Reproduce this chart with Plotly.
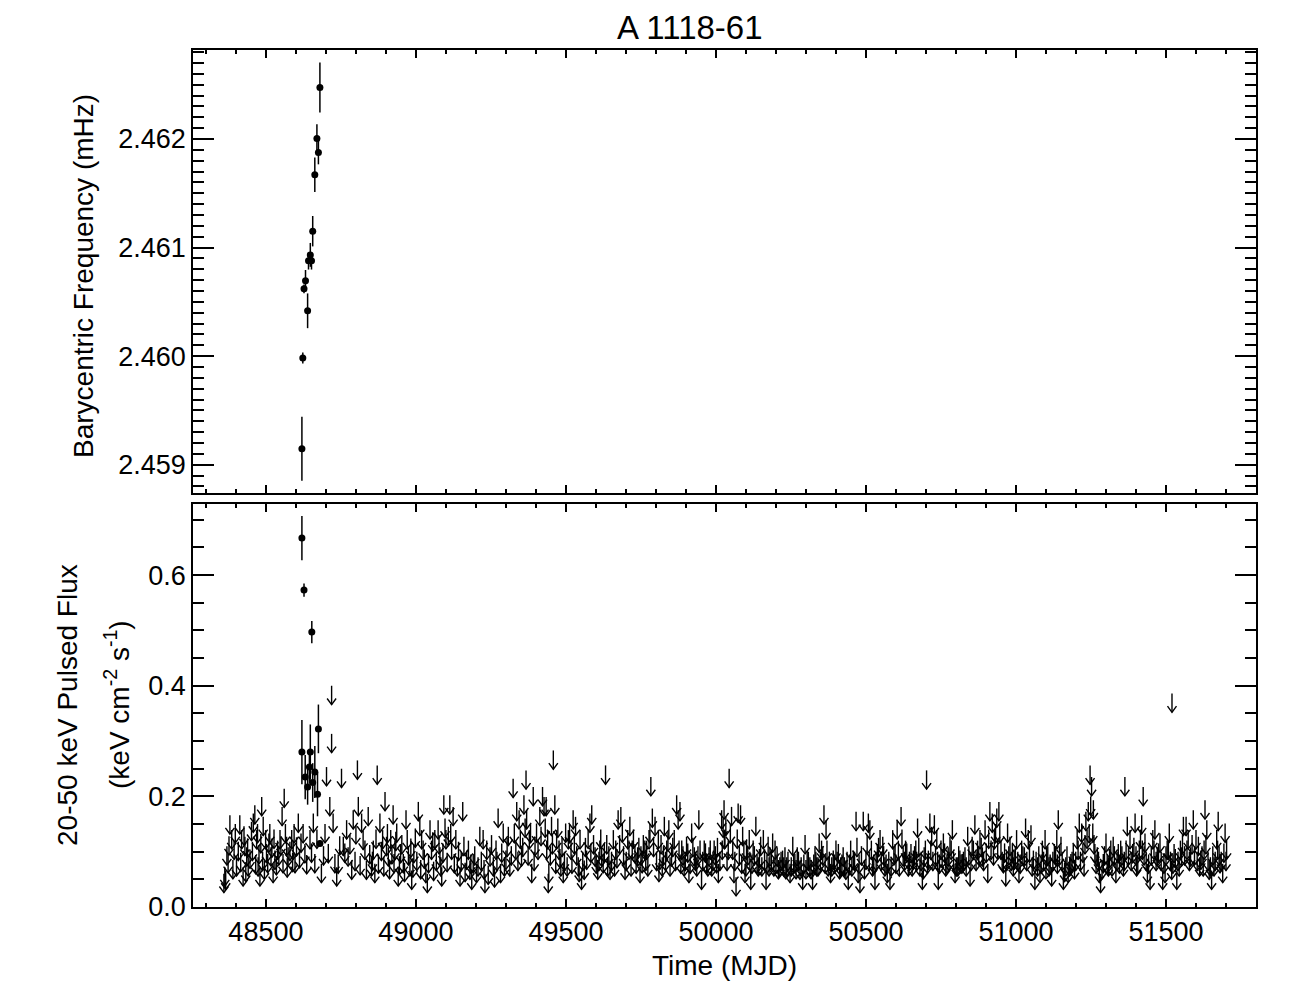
import plotly.graph_objects as go

# ---------------- data ----------------
# Top panel: barycentric pulse frequency (mHz)
freq_time = [48620, 48623, 48627, 48632, 48639, 48642, 48648, 48652, 48656, 48663, 48670, 48675, 48680]
freq_val = [2.459147, 2.459983, 2.460620, 2.460694, 2.460418, 2.460878, 2.460933, 2.460878,
            2.461151, 2.461671, 2.462005, 2.461877, 2.462474]
freq_err = [0.000294, 0.00005, 0.00004, 0.00010, 0.00016, 0.00008, 0.00011, 0.00008,
            0.00014, 0.00016, 0.00013, 0.00011, 0.00023]

# Bottom panel: detections of pulsed flux
flux_time = [48620, 48620, 48627, 48631, 48639, 48645, 48648, 48653, 48656, 48663, 48672, 48675, 48680]
flux_val = [0.280, 0.667, 0.573, 0.235, 0.217, 0.253, 0.280, 0.497, 0.225, 0.244, 0.204, 0.322, 0.115]
flux_err = [0.058, 0.040, 0.012, 0.040, 0.032, 0.030, 0.050, 0.020, 0.035, 0.047, 0.040, 0.044, 0.005]

# Bottom panel: upper limits (arrows) - clearly separable ones
ul_time = [
    48360, 48363, 48366, 48374, 48380, 48386, 48394, 48402, 48413, 48419,
    48424, 48430, 48436, 48441, 48452, 48458, 48463, 48469, 48474, 48480,
    48486, 48491, 48499, 48502, 48510, 48517, 48524, 48530, 48539, 48547,
    48554, 48561, 48569, 48574, 48586, 48591, 48597, 48608, 48617, 48630,
    48647, 48658, 48663, 48685, 48702, 48708, 48713, 48719, 48719, 48724,
    48730, 48736, 48752, 48758, 48769, 48774, 48786, 48791, 48805, 48808,
    48819, 48830, 48841, 48852,
    48858, 48863, 48871, 48880, 48889, 48897, 48902, 48908, 48916, 48924,
    48930, 48936, 48941, 48949, 48958, 48967, 48971, 48980, 48986, 48993,
    49008, 49013, 49019, 49024, 49033, 49038, 49047, 49052, 49063, 49074,
    49080, 49086, 49093, 49100, 49108, 49113, 49119, 49124, 49133, 49138,
    49147, 49156, 49160, 49169, 49180, 49186, 49191, 49202, 49213, 49224,
    49230, 49236, 49247, 49258, 49267, 49274, 49282, 49291, 49300, 49308,
    49313, 49324, 49333, 49336, 49344, 49352, 49360, 49367, 49369, 49378,
    49386, 49391, 49397, 49402, 49413, 49422, 49427, 49436, 49441,
    49434, 49439, 49443, 49452, 49458, 49463, 49469, 49477, 49483, 49491,
    49499, 49508, 49517, 49524, 49532, 49541, 49547, 49552, 49561, 49569,
    49580, 49586, 49597, 49606, 49613, 49619, 49624, 49632, 49639, 49647,
    49658, 49666, 49674, 49683, 49688, 49697, 49706, 49713, 49721, 49730,
    49739, 49747, 49754, 49763, 49769, 49777, 49783, 49788, 49797, 49808,
    49813, 49821, 49828, 49836, 49843, 49852, 49861, 49869, 49874, 49880,
    49886, 49894, 49902, 49910, 49919, 49928, 49936, 49943, 49952, 49961,
    49969, 49977, 49986, 49994, 50002, 50008, 50019, 50028,
    50021, 50027, 50033, 50041, 50044, 50052, 50060, 50067, 50074, 50082,
    50089, 50097, 50102, 50111, 50116, 50124, 50133, 50141, 50149, 50158,
    50167, 50174, 50180, 50189, 50197, 50204, 50213, 50222, 50230, 50236,
    50247, 50256, 50263, 50271, 50280, 50289, 50297, 50304, 50313, 50322,
    50330, 50336, 50344, 50352, 50360, 50367, 50374, 50382, 50391, 50400,
    50408, 50416, 50424, 50433, 50441, 50449, 50458, 50467, 50474, 50480,
    50491, 50500, 50508, 50513, 50522, 50530, 50538, 50547, 50556, 50563,
    50571, 50580, 50589, 50597, 50604, 50611,
    50617, 50624, 50632, 50641, 50650, 50658, 50666, 50672, 50680, 50688,
    50694, 50702, 50708, 50713, 50719, 50728, 50736, 50741, 50750, 50758,
    50766, 50774, 50780, 50788, 50797, 50806, 50813, 50821, 50830, 50839,
    50847, 50854, 50863, 50872, 50880, 50888, 50897, 50906, 50913, 50921,
    50928, 50936, 50943, 50950, 50958, 50966, 50972, 50980, 50988, 50994,
    51002, 51010, 51019, 51028, 51032, 51041, 51050, 51058, 51063, 51072,
    51080, 51088, 51097, 51102, 51110, 51119, 51128, 51136, 51141, 51150,
    51158, 51166, 51174, 51183, 51191,
    51204, 51211, 51219, 51227, 51233, 51241, 51247, 51252, 51256, 51258,
    51263, 51271, 51278, 51282, 51291, 51300, 51308, 51316, 51324, 51333,
    51341, 51349, 51358, 51363, 51371, 51380, 51389, 51397, 51402, 51411,
    51419, 51424, 51430, 51438, 51447, 51456, 51463, 51471, 51480, 51489,
    51497, 51504, 51511, 51519, 51520, 51527, 51536, 51544, 51552, 51558,
    51567, 51574, 51582, 51591, 51600, 51608, 51616, 51624, 51630, 51636,
    51644, 51652, 51660, 51669, 51674, 51680, 51689, 51697, 51702,
]
ul_flux = [
    0.060, 0.072, 0.066, 0.096, 0.166, 0.139, 0.120, 0.090, 0.166, 0.139,
    0.072, 0.127, 0.108, 0.090, 0.154, 0.169, 0.184, 0.139, 0.090, 0.072,
    0.199, 0.163, 0.139, 0.114, 0.133, 0.108, 0.078, 0.102, 0.120, 0.139,
    0.181, 0.214, 0.127, 0.108, 0.139, 0.120, 0.096, 0.169, 0.133, 0.114,
    0.139, 0.169, 0.096, 0.078, 0.253, 0.114, 0.199, 0.313, 0.400, 0.169,
    0.096, 0.072, 0.250, 0.127, 0.157, 0.108, 0.084, 0.175, 0.265, 0.199,
    0.169, 0.120, 0.181, 0.090,
    0.120, 0.078, 0.256, 0.169, 0.139, 0.208, 0.127, 0.108, 0.139, 0.184,
    0.120, 0.151, 0.072, 0.114, 0.096, 0.175, 0.139, 0.090, 0.066, 0.114,
    0.190, 0.163, 0.139, 0.120, 0.078, 0.060, 0.157, 0.120, 0.139, 0.157,
    0.108, 0.072, 0.202, 0.139, 0.145, 0.202, 0.120, 0.181, 0.139, 0.090,
    0.072, 0.190, 0.127, 0.102, 0.084, 0.066, 0.096, 0.078, 0.145, 0.139,
    0.060, 0.120, 0.108, 0.090, 0.120, 0.178, 0.078, 0.151, 0.102, 0.145,
    0.090, 0.232, 0.120, 0.190, 0.175, 0.108, 0.202, 0.247, 0.175, 0.139,
    0.078, 0.217, 0.127, 0.151, 0.181, 0.217, 0.199, 0.120, 0.060,
    0.199, 0.139, 0.078, 0.163, 0.283, 0.202, 0.139, 0.120, 0.090, 0.078,
    0.151, 0.139, 0.120, 0.175, 0.163, 0.090, 0.139, 0.066, 0.084, 0.102,
    0.169, 0.184, 0.108, 0.084, 0.120, 0.108, 0.096, 0.256, 0.090, 0.084,
    0.139, 0.120, 0.175, 0.181, 0.151, 0.084, 0.139, 0.163, 0.120, 0.114,
    0.108, 0.078, 0.096, 0.120, 0.120, 0.139, 0.235, 0.178, 0.163, 0.139,
    0.102, 0.090, 0.163, 0.120, 0.157, 0.108, 0.139, 0.202, 0.175, 0.190,
    0.120, 0.090, 0.127, 0.078, 0.151, 0.108, 0.090, 0.175, 0.066, 0.120,
    0.096, 0.108, 0.090, 0.120, 0.096, 0.078, 0.175, 0.139,
    0.120, 0.193, 0.163, 0.120, 0.250, 0.181, 0.078, 0.054, 0.187, 0.184,
    0.145, 0.078, 0.120, 0.139, 0.066, 0.120, 0.163, 0.090, 0.127, 0.139,
    0.066, 0.127, 0.108, 0.133, 0.120, 0.108, 0.090, 0.102, 0.108, 0.090,
    0.078, 0.127, 0.096, 0.108, 0.084, 0.066, 0.130, 0.102, 0.090, 0.066,
    0.108, 0.090, 0.133, 0.120, 0.184, 0.157, 0.090, 0.078, 0.102, 0.120,
    0.114, 0.090, 0.108, 0.084, 0.066, 0.120, 0.102, 0.172, 0.078, 0.060,
    0.172, 0.102, 0.169, 0.157, 0.090, 0.066, 0.114, 0.139, 0.127, 0.090,
    0.078, 0.066, 0.139, 0.114, 0.157, 0.090,
    0.181, 0.108, 0.120, 0.090, 0.114, 0.102, 0.120, 0.160, 0.090, 0.066,
    0.108, 0.247, 0.102, 0.169, 0.145, 0.166, 0.139, 0.066, 0.120, 0.133,
    0.090, 0.108, 0.127, 0.157, 0.078, 0.090, 0.102, 0.096, 0.108, 0.145,
    0.072, 0.127, 0.166, 0.120, 0.139, 0.108, 0.157, 0.078, 0.190, 0.169,
    0.139, 0.178, 0.190, 0.120, 0.096, 0.072, 0.151, 0.127, 0.114, 0.102,
    0.139, 0.078, 0.120, 0.108, 0.160, 0.139, 0.148, 0.102, 0.066, 0.090,
    0.078, 0.120, 0.139, 0.108, 0.090, 0.072, 0.114, 0.139, 0.175, 0.127,
    0.066, 0.090, 0.078, 0.096, 0.114,
    0.139, 0.169, 0.151, 0.090, 0.172, 0.190, 0.256, 0.235, 0.151, 0.193,
    0.114, 0.108, 0.078, 0.060, 0.096, 0.133, 0.090, 0.120, 0.127, 0.078,
    0.114, 0.120, 0.090, 0.235, 0.163, 0.139, 0.114, 0.169, 0.090, 0.120,
    0.166, 0.217, 0.133, 0.078, 0.066, 0.139, 0.157, 0.108, 0.133, 0.066,
    0.078, 0.120, 0.151, 0.084, 0.386, 0.114, 0.066, 0.090, 0.108, 0.163,
    0.163, 0.139, 0.108, 0.175, 0.139, 0.127, 0.102, 0.090, 0.193, 0.157,
    0.084, 0.066, 0.090, 0.139, 0.172, 0.096, 0.078, 0.151, 0.120,
]

# Bottom panel: upper limits inside the dense, overlapping clusters (estimated)
ul_time_dense = [
    48370, 48377, 48390, 48398, 48408, 48416, 48427, 48433, 48439, 48447,
    48455, 48466, 48472, 48477, 48483, 48489, 48495, 48506, 48513, 48520,
    48527, 48535, 48543, 48550, 48557, 48565, 48571, 48580, 48589, 48594,
    48602, 48612, 48624, 48636, 48652, 48670, 48692, 48697, 48741, 48746,
    48763, 48780, 48797, 48800, 48814, 48824, 48835, 48846,
    48855, 48867, 48875, 48885, 48893, 48905, 48912, 48920, 48927, 48933,
    48945, 48953, 48962, 48975, 48983, 48990, 48998, 49003, 49016, 49028,
    49042, 49056, 49059, 49068, 49077, 49083, 49090, 49097, 49104, 49116,
    49128, 49142, 49151, 49164, 49175, 49183, 49196, 49207, 49218, 49227,
    49241, 49252, 49262, 49270, 49286, 49295, 49304, 49318, 49328, 49340,
    49348, 49356, 49364, 49374, 49382, 49394, 49407, 49417, 49431,
    49448, 49455, 49466, 49473, 49480, 49487, 49495, 49504, 49512, 49520,
    49528, 49536, 49544, 49556, 49565, 49574, 49583, 49592, 49601, 49610,
    49616, 49628, 49636, 49643, 49652, 49662, 49670, 49679, 49692, 49701,
    49710, 49717, 49725, 49734, 49743, 49750, 49758, 49766, 49773, 49780,
    49792, 49802, 49810, 49817, 49825, 49832, 49840, 49847, 49856, 49865,
    49877, 49883, 49890, 49898, 49906, 49914, 49923, 49932, 49940, 49947,
    49956, 49965, 49973, 49981, 49990, 49998, 50005, 50013, 50024,
    50030, 50037, 50048, 50056, 50063, 50071, 50078, 50086, 50093, 50100,
    50106, 50113, 50120, 50128, 50137, 50145, 50153, 50162, 50170, 50177,
    50185, 50193, 50200, 50208, 50217, 50226, 50233, 50240, 50251, 50259,
    50267, 50275, 50284, 50293, 50300, 50308, 50317, 50326, 50333, 50340,
    50348, 50356, 50364, 50370, 50378, 50386, 50395, 50404, 50412, 50420,
    50428, 50437, 50445, 50453, 50462, 50470, 50477, 50485, 50495, 50504,
    50511, 50518, 50526, 50534, 50542, 50551, 50559, 50567, 50576, 50584,
    50593, 50600, 50608,
    50620, 50628, 50636, 50645, 50654, 50662, 50669, 50676, 50684, 50691,
    50698, 50705, 50716, 50723, 50732, 50739, 50745, 50754, 50762, 50770,
    50777, 50784, 50792, 50801, 50809, 50817, 50825, 50834, 50843, 50850,
    50858, 50867, 50876, 50884, 50892, 50901, 50909, 50917, 50925, 50932,
    50939, 50946, 50954, 50962, 50969, 50976, 50984, 50991, 50998, 51006,
    51014, 51023, 51036, 51045, 51054, 51067, 51076, 51084, 51092, 51100,
    51106, 51114, 51123, 51132, 51138, 51145, 51154, 51162, 51170, 51179,
    51187, 51195,
    51199, 51207, 51215, 51223, 51230, 51237, 51244, 51249, 51260, 51267,
    51275, 51287, 51295, 51304, 51312, 51320, 51328, 51337, 51345, 51353,
    51361, 51367, 51375, 51384, 51393, 51400, 51406, 51415, 51421, 51427,
    51434, 51442, 51451, 51460, 51467, 51475, 51484, 51493, 51500, 51508,
    51515, 51523, 51531, 51540, 51548, 51555, 51562, 51570, 51578, 51587,
    51595, 51604, 51612, 51620, 51627, 51633, 51640, 51648, 51656, 51664,
    51672, 51677, 51684, 51693, 51700,
]
ul_flux_dense = [
    0.110, 0.128, 0.085, 0.150, 0.118, 0.098, 0.146, 0.080, 0.124, 0.104,
    0.118, 0.094, 0.150, 0.112, 0.132, 0.100, 0.084, 0.096, 0.150, 0.124,
    0.140, 0.092, 0.110, 0.128, 0.096, 0.150, 0.088, 0.118, 0.098, 0.150,
    0.126, 0.105, 0.150, 0.094, 0.115, 0.140, 0.110, 0.150, 0.095, 0.128,
    0.115, 0.130, 0.100, 0.148, 0.092, 0.138, 0.084, 0.112,
    0.100, 0.140, 0.095, 0.118, 0.090, 0.150, 0.085, 0.112, 0.096, 0.136,
    0.092, 0.130, 0.080, 0.110, 0.124, 0.088, 0.142, 0.100, 0.085, 0.104,
    0.096, 0.135, 0.082, 0.100, 0.130, 0.090, 0.115, 0.160, 0.098, 0.150,
    0.096, 0.118, 0.100, 0.080, 0.120, 0.095, 0.110, 0.090, 0.100, 0.085,
    0.075, 0.130, 0.070, 0.100, 0.115, 0.090, 0.125, 0.110, 0.150, 0.100,
    0.140, 0.125, 0.160, 0.110, 0.150, 0.100, 0.120, 0.145, 0.160,
    0.110, 0.130, 0.095, 0.160, 0.105, 0.125, 0.100, 0.090, 0.150, 0.095,
    0.130, 0.110, 0.080, 0.100, 0.125, 0.140, 0.115, 0.130, 0.095, 0.100,
    0.140, 0.115, 0.130, 0.110, 0.100, 0.090, 0.105, 0.130, 0.110, 0.100,
    0.120, 0.090, 0.140, 0.095, 0.125, 0.110, 0.130, 0.100, 0.090, 0.150,
    0.125, 0.100, 0.080, 0.130, 0.110, 0.100, 0.135, 0.090, 0.125, 0.100,
    0.120, 0.095, 0.110, 0.100, 0.115, 0.095, 0.125, 0.100, 0.110, 0.120,
    0.100, 0.115, 0.090, 0.120, 0.100, 0.110, 0.125, 0.100, 0.160,
    0.140, 0.100, 0.150, 0.120, 0.100, 0.140, 0.110, 0.095, 0.120, 0.090,
    0.110, 0.100, 0.095, 0.110, 0.095, 0.105, 0.090, 0.100, 0.095, 0.090,
    0.100, 0.090, 0.095, 0.085, 0.100, 0.090, 0.085, 0.100, 0.090, 0.095,
    0.085, 0.100, 0.090, 0.095, 0.085, 0.100, 0.085, 0.095, 0.100, 0.090,
    0.100, 0.110, 0.095, 0.120, 0.100, 0.090, 0.095, 0.100, 0.085, 0.095,
    0.090, 0.100, 0.095, 0.090, 0.100, 0.125, 0.095, 0.110, 0.085, 0.130,
    0.100, 0.120, 0.095, 0.100, 0.125, 0.100, 0.110, 0.095, 0.100, 0.090,
    0.110, 0.095, 0.120,
    0.140, 0.100, 0.115, 0.100, 0.090, 0.110, 0.100, 0.125, 0.100, 0.085,
    0.120, 0.095, 0.120, 0.100, 0.110, 0.100, 0.095, 0.105, 0.115, 0.095,
    0.100, 0.120, 0.100, 0.090, 0.110, 0.095, 0.100, 0.090, 0.110, 0.100,
    0.120, 0.100, 0.110, 0.125, 0.100, 0.115, 0.140, 0.120, 0.110, 0.150,
    0.120, 0.150, 0.100, 0.115, 0.100, 0.110, 0.100, 0.090, 0.110, 0.100,
    0.095, 0.110, 0.100, 0.115, 0.090, 0.100, 0.110, 0.095, 0.100, 0.085,
    0.110, 0.095, 0.100, 0.110, 0.095, 0.110, 0.100, 0.080, 0.110, 0.090,
    0.100, 0.085,
    0.100, 0.120, 0.100, 0.115, 0.130, 0.140, 0.150, 0.200, 0.130, 0.095,
    0.100, 0.085, 0.110, 0.095, 0.105, 0.090, 0.110, 0.100, 0.095, 0.110,
    0.100, 0.120, 0.110, 0.100, 0.125, 0.110, 0.095, 0.140, 0.120, 0.110,
    0.100, 0.095, 0.110, 0.120, 0.100, 0.115, 0.100, 0.095, 0.110, 0.120,
    0.100, 0.095, 0.105, 0.100, 0.120, 0.130, 0.110, 0.120, 0.100, 0.130,
    0.110, 0.100, 0.090, 0.110, 0.120, 0.130, 0.100, 0.090, 0.110, 0.100,
    0.120, 0.110, 0.100, 0.115, 0.100,
]
assert len(ul_time) == len(ul_flux)
assert len(ul_time_dense) == len(ul_flux_dense)

x_range = [48257, 51800]
freq_range = [2.45874, 2.46282]
flux_range = [0.0, 0.7285]

FONT = "Liberation Sans, Arial, Helvetica, sans-serif"

# arrow glyph size (data units of the axes)
ARROW_LEN = 0.034
HEAD_H = 0.011
HEAD_DX = 15

arr_x, arr_y = [], []
for t, v in zip(ul_time + ul_time_dense, ul_flux + ul_flux_dense):
    tip = v - ARROW_LEN
    arr_x += [t, t, None, t - HEAD_DX, t, t + HEAD_DX, None]
    arr_y += [v, tip, None, tip + HEAD_H, tip, tip + HEAD_H, None]

fig = go.Figure()

fig.add_trace(go.Scatter(
    x=freq_time, y=freq_val, mode="markers", xaxis="x", yaxis="y",
    marker=dict(color="black", size=7),
    error_y=dict(type="data", array=freq_err, visible=True, color="black", thickness=1.5, width=0),
    showlegend=False, cliponaxis=False))

fig.add_trace(go.Scatter(
    x=arr_x, y=arr_y, mode="lines", xaxis="x2", yaxis="y2",
    line=dict(color="black", width=1.4), showlegend=False, hoverinfo="skip"))

fig.add_trace(go.Scatter(
    x=flux_time, y=flux_val, mode="markers", xaxis="x2", yaxis="y2",
    marker=dict(color="black", size=7),
    error_y=dict(type="data", array=flux_err, visible=True, color="black", thickness=1.5, width=0),
    showlegend=False))

common_x = dict(range=x_range, tick0=48500, dtick=500, tickformat="d",
                ticks="inside", ticklen=8, tickwidth=1.5,
                tickcolor="black", showline=True, linecolor="black", linewidth=1.5, mirror="allticks",
                showgrid=False, zeroline=False,
                minor=dict(dtick=100, ticks="inside", ticklen=4, tickwidth=1.5, tickcolor="black", showgrid=False),
                tickfont=dict(family=FONT, size=27, color="black"))

# page body has an 8 px margin, so the figure is 8 px smaller on each side
fig.update_layout(
    width=1288, height=1000,
    margin=dict(l=185, r=40, t=42, b=101),
    paper_bgcolor="white", plot_bgcolor="white",
    xaxis=dict(**common_x, anchor="y", showticklabels=False, matches="x2"),
    xaxis2=dict(**common_x, anchor="y2", showticklabels=True),
    yaxis=dict(domain=[0.4831, 1.0], range=freq_range, tick0=2.459, dtick=0.001, tickformat=".3f",
               ticks="inside", ticklen=21, tickwidth=1.5, tickcolor="black",
               showline=True, linecolor="black", linewidth=1.5, mirror="allticks",
               showgrid=False, zeroline=False,
               minor=dict(dtick=0.0001, ticks="inside", ticklen=11, tickwidth=1.5, tickcolor="black", showgrid=False),
               tickfont=dict(family=FONT, size=27, color="black"), anchor="x"),
    yaxis2=dict(domain=[0.0, 0.4702], range=flux_range, tick0=0, dtick=0.2, tickformat=".1f",
                ticks="inside", ticklen=21, tickwidth=1.5, tickcolor="black",
                showline=True, linecolor="black", linewidth=1.5, mirror="allticks",
                showgrid=False, zeroline=False,
                minor=dict(dtick=0.05, ticks="inside", ticklen=11, tickwidth=1.5, tickcolor="black", showgrid=False),
                tickfont=dict(family=FONT, size=27, color="black"), anchor="x2"),
)

def px_x(p):
    return (p - 193) / 1063.0

def px_y(p):
    return (907 - p) / 857.0

annots = [
    dict(text="A 1118-61", x=px_x(690), y=px_y(28), font=dict(size=33)),
    dict(text="Time (MJD)", x=px_x(724.5), y=px_y(965), font=dict(size=28)),
    dict(text="Barycentric Frequency (mHz)", x=px_x(83), y=px_y(276), textangle=-90, font=dict(size=28)),
    dict(text="20-50 keV Pulsed Flux", x=px_x(67), y=px_y(705), textangle=-90, font=dict(size=28)),
    dict(text="(keV cm<sup>-2</sup> s<sup>-1</sup>)", x=px_x(117), y=px_y(705), textangle=-90, font=dict(size=28)),
]
for a in annots:
    a["font"].update(family=FONT, color="black")
    fig.add_annotation(xref="paper", yref="paper", showarrow=False,
                       xanchor="center", yanchor="middle", **a)

fig.write_html("out.html")
